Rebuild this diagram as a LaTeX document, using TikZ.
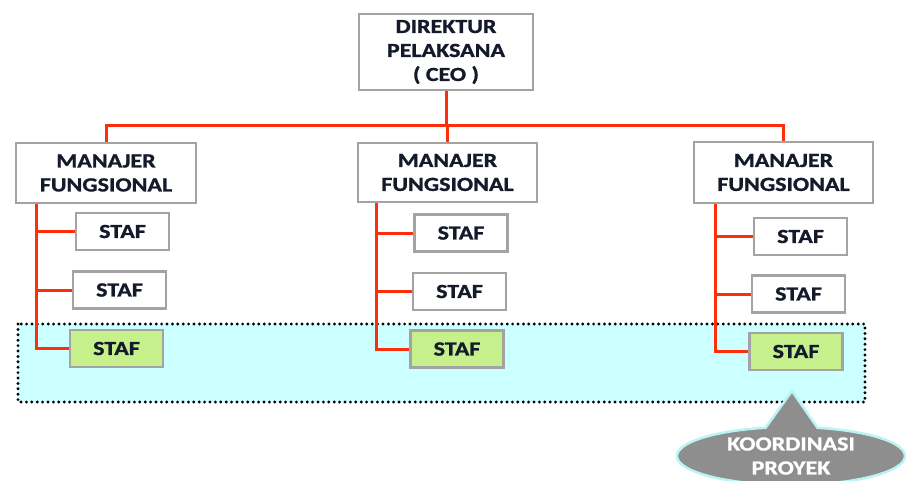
\documentclass[tikz,border=0pt]{standalone}
\usepackage{fontspec}
\setmainfont{Carlito}[FakeStretch=1.2, BoldFeatures={FakeBold=1.2}]
\usetikzlibrary{shapes.geometric}

\definecolor{linkred}{HTML}{FF2E0A}
\definecolor{boxgray}{HTML}{A3A3A3}
\definecolor{inkblue}{HTML}{141A2A}
\definecolor{staffgreen}{HTML}{C6F08C}
\definecolor{zonecyan}{HTML}{CCFFFF}
\definecolor{bubblegray}{HTML}{8E8E8E}
\definecolor{bubbleedge}{HTML}{B8F4F4}

\tikzset{
  orgbox/.style={draw=boxgray, line width=2.5pt, fill=white, inner sep=0pt,
    align=center, text=inkblue, font=\fontsize{20}{24}\selectfont\bfseries},
  staffbox/.style={orgbox, minimum width=93pt, minimum height=37pt},
  keystaff/.style={staffbox, fill=staffgreen},
  link/.style={draw=linkred, line width=3pt},
  zone/.style={fill=zonecyan, draw=black, line width=3.2pt, line cap=round,
    dash pattern=on 0pt off 5.4pt},
  bubble/.style={ellipse, fill=bubblegray, draw=bubbleedge, line width=2.5pt,
    minimum width=228pt, minimum height=58pt, inner sep=0pt, align=center,
    text=white, font=\fontsize{20}{24}\selectfont\bfseries},
}

\begin{document}
\begin{tikzpicture}[x=1pt, y=-1pt]
  \useasboundingbox (0,0) rectangle (908,480);
  \clip (0,0) rectangle (908,480);

  % project coordination band
  \path[zone] (18,324) rectangle (865,402);

  % top management
  \node[orgbox, minimum width=174pt, minimum height=76pt] (ceo) at (446,52)
    {DIREKTUR\\PELAKSANA\\( CEO )};

  % functional managers
  \node[orgbox, minimum width=180pt, minimum height=60pt] (m1) at (106,173)
    {MANAJER\\FUNGSIONAL};
  \node[orgbox, minimum width=179pt, minimum height=59pt] (m2) at (447.5,172.5)
    {MANAJER\\FUNGSIONAL};
  \node[orgbox, minimum width=179pt, minimum height=61pt] (m3) at (783.5,172.5)
    {MANAJER\\FUNGSIONAL};

  % staff, first column
  \node[staffbox] (s11) at (122.5,231.5) {STAF};
  \node[staffbox] (s12) at (119.5,290) {STAF};
  \node[keystaff] (s13) at (116.5,348.5) {STAF};
  % staff, second column
  \node[staffbox] (s21) at (461,233) {STAF};
  \node[staffbox] (s22) at (459.5,291.5) {STAF};
  \node[keystaff] (s23) at (457,349) {STAF};
  % staff, third column
  \node[staffbox] (s31) at (800.5,236.5) {STAF};
  \node[staffbox] (s32) at (798.5,294) {STAF};
  \node[keystaff] (s33) at (796,351.5) {STAF};

  % reporting lines: CEO to managers
  \coordinate (bus) at (0,125);
  \draw[link] (m1.north) -- (m1.north |- bus) -| (m3.north);
  \draw[link] (ceo.south) -- (ceo.south |- bus);
  \draw[link] (m2.north) -- (m2.north |- bus);

  % reporting lines: managers to staff
  \foreach \m/\dx/\a/\b/\c in {m1/22/s11/s12/s13, m2/20/s21/s22/s23, m3/23/s31/s32/s33}{
    \draw[link] ([xshift=\dx pt]\m.south west) |- (\a.west);
    \draw[link] ([xshift=\dx pt]\m.south west) |- (\b.west);
    \draw[link] ([xshift=\dx pt]\m.south west) |- (\c.west);
  }

  % coordination callout
  \node[bubble] (koord) at (791,456) {KOORDINASI\\PROYEK};
  \fill[bubblegray] (765,428.6) -- (792,391) -- (818,428.6) -- (818,433) -- (765,433) -- cycle;
  \draw[bubbleedge, line width=2.5pt, line join=round] (765,428.6) -- (792,391) -- (818,428.6);
\end{tikzpicture}
\end{document}
